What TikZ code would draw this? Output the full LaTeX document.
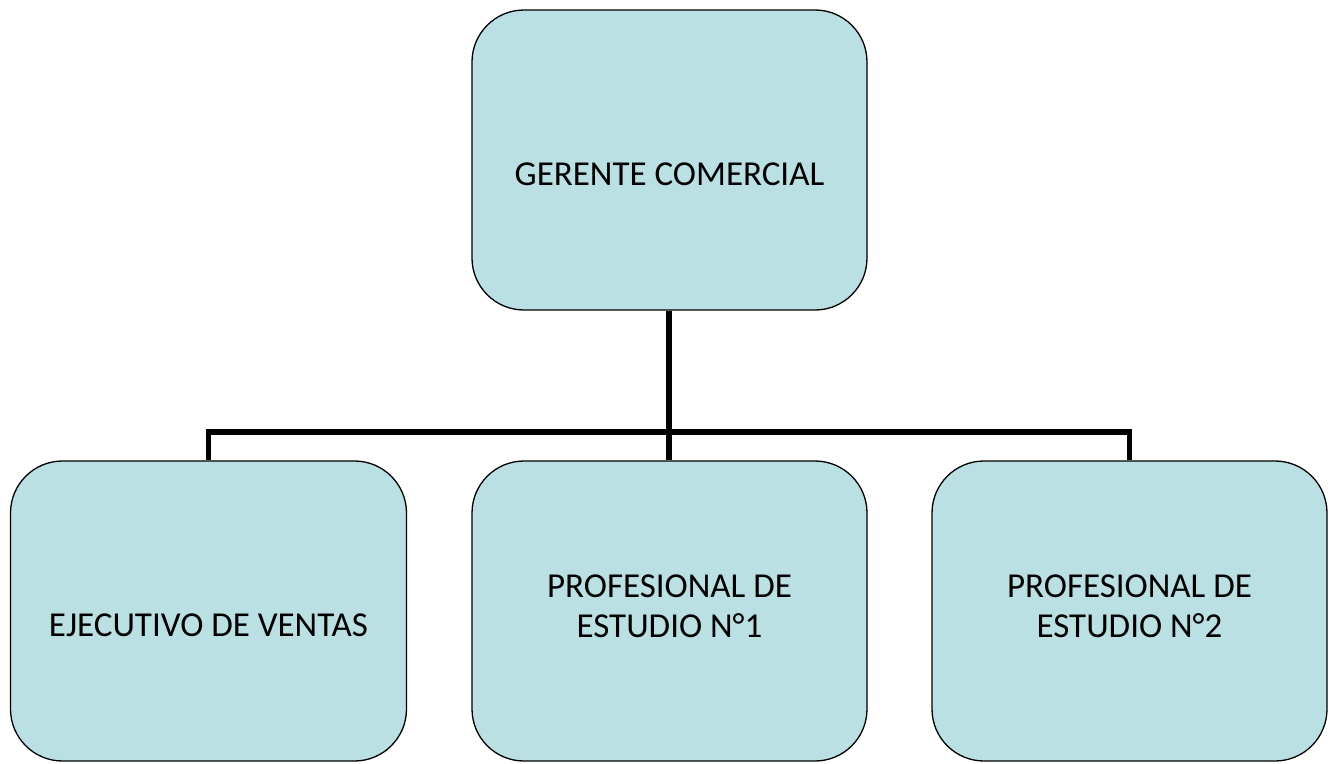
\documentclass[tikz,border=0pt]{standalone}
\usepackage{fontspec}
\setmainfont{Carlito}
\definecolor{boxfill}{RGB}{186,224,227}
\begin{document}
\begin{tikzpicture}[x=1pt,y=-1pt,
  orgbox/.style={draw=black, line width=1.3pt, fill=boxfill, rounded corners=52pt,
    minimum width=395pt, minimum height=300pt, inner sep=0pt},
  lbl/.style={align=center, inner sep=0pt, text=black,
    font=\fontsize{35}{40}\selectfont},
  link/.style={line width=5.5pt, black}]
\useasboundingbox (0,0) rectangle (1333,763);
\node[orgbox, label={[lbl, yshift=-14pt]center:GERENTE COMERCIAL}] (top) at (669.5,160) {};
\node[orgbox, minimum width=396pt, label={[lbl, yshift=-14pt]center:EJECUTIVO DE VENTAS}] (left) at (208.5,611) {};
\node[orgbox, label={[lbl, yshift=5pt]center:PROFESIONAL DE\\ESTUDIO N°1}] (mid) at (669.5,611) {};
\node[orgbox, label={[lbl, yshift=5pt]center:PROFESIONAL DE\\ESTUDIO N°2}] (right) at (1129.5,611) {};
\coordinate (bus) at (669,432);
\draw[link] (top.south -| bus) -- (bus);
\draw[link] (left.north) -- (left.north |- bus) -- (right.north |- bus) -- (right.north);
\draw[link] (bus) -- (mid.north -| bus);
\end{tikzpicture}
\end{document}
